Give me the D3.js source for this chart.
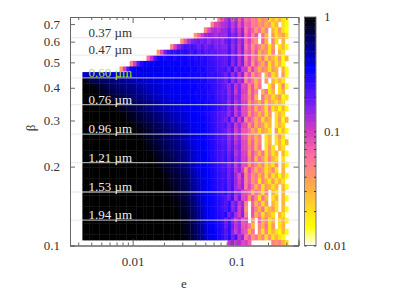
<!DOCTYPE html>
<html>
<head>
<meta charset="utf-8">
<script src="https://d3js.org/d3.v7.min.js"></script>
<style>
  body { margin: 0; background: #fff; }
  svg { display: block; }
  text { font-family: "Liberation Serif", serif; font-size: 13px; fill: #333; }
  .axis path, .axis line { stroke: #666; stroke-width: 1px; fill: none; }
  .cbar line { stroke: #333; }
  .axis text { fill: #333; font-family: "Liberation Serif", serif; font-size: 13px; }
</style>
</head>
<body>
<div id="chart"></div>
<script>
// tick values
var yTicks = [0.1, 0.2, 0.3, 0.4, 0.5, 0.6, 0.7];
var xMajor = [0.01, 0.1];
var xMinor = [0.003, 0.004, 0.005, 0.006, 0.007, 0.008, 0.009, 0.02, 0.03, 0.04, 0.05, 0.06, 0.07, 0.08, 0.09, 0.2, 0.3];
var cbMajor = [0.01, 0.1, 1];
var cbMinor = [0.02, 0.03, 0.04, 0.05, 0.06, 0.07, 0.08, 0.09, 0.2, 0.3, 0.4, 0.5, 0.6, 0.7, 0.8, 0.9];

// wavelength lines: label and beta
var waveLabels = ["0.37 µm", "0.47 µm", "0.60 µm", "0.76 µm", "0.96 µm", "1.21 µm", "1.53 µm", "1.94 µm"];
var waveBeta = [0.622, 0.533, 0.436, 0.345, 0.266, 0.207, 0.160, 0.125];
var waveColor = ["#333", "#333", "#a8e800", "#eee", "#eee", "#eee", "#eee", "#eee"];

// heatmap rows, top to bottom. firstCol = first column with data,
// blackCells = leading cells at 100%, rowCells = the rest in percent (0 = no data)
var firstCol = [40,38,36,33,29,26,22,19,14,11,0,0,0,0,0,0,0,0,0,0,0,0,0,0,0,0,0,0,0,0,0,0,0,0,0,0,0,0,0,0,43];
var blackCells = [0,0,0,0,0,0,0,0,0,0,0,1,3,4,6,8,10,12,13,15,16,17,18,19,20,21,22,23,24,24,25,26,26,27,27,28,28,28,29,29,0];
var rowCells = [
  [5,8, 11,15,8,12,7,11,6,7,5,6,3,5,4,2,3,2,3,2,1.5],
  [5,9,10,12, 13,17,11,15,8,12,7,8,5,6,4,5,3,4,2,3,0,2,1.5],
  [5,9,12,13,12,14, 15,20,12,17,10,15,6,9,7,4,6,3,5,0,3,2,4,2,1.5],
  [4,7,10,14,16,15,13,15,14, 14,21,15,19,11,16,7,10,5,8,0,6,3,0,4,2,3,4,2],
  [4,8,12,16,18,20,17,19,15,18,16,17,14, 19,23,15,20,12,16,7,10,6,4,0,7,3,0,5,2,0,3],
  [5,10,16,20,24,22,25,22,19,22,18,20,21,17,18,16, 16,23,14,19,11,17,6,9,4,7,5,3,5,2,4,0,2,3,1.5],
  [4,9,18,24,28,26,30,27,29,26,24,28,22,25,21,23,20,21,19,18, 18,24,15,20,11,16,7,9,5,8,3,5,4,2,5,0,3,2],
  [6,12,22,30,34,30,33,35,30,34,32,33,30,32,28,31,27,29,26,24,23,21,20, 19,25,16,21,12,17,6,10,5,7,3,6,2,4,3,2,4,1.5,3],
  [5,10,20,30,36,34,38,36,40,36,38,34,38,35,36,33,35,32,34,31,32,29,30,27,26,24,23,21, 20,26,15,22,12,17,7,10,4,8,5,3,6,2,4,2,3,1.5],
  [4,10,22,34,38,40,38,42,40,38,42,38,40,36,38,36,38,35,36,34,35,33,34,31,32,30,28,27,25,23,22, 24,18,24,14,19,11,11,5,9,6,3,5,4,2,4,3,0,3,1.5],
  [45,44,43,44,42,43,42,41,42,40,41,40,42,40,41,39,40,38,40,38,39,37,38,36,38,36,37,34,36,34, 35,33,34,32,33,30,31,28,26,27,24,22, 19,24,14,20,11,16,6,9,4,7,5,0,3,5,2,3,0,4,1.5],
  [80,75,72,70,68,66,64,62,60,58,56,54,52,50,48,46,45,44,43,42,41,40,39,38,39,37,38,36,37, 36,34,35,33,34,31,32,28,27,25,23,21, 18,24,14,19,12,15,5,8,6,3,5,0,4,0,3,2,3,2],
  [90,85,80,76,72,68,66,64,62,60,58,56,54,52,50,48,46,45,44,42,41,40,40,38,39,37,38, 36,36,34,35,32,33,30,31,27,26,24,21, 20,15,21,12,16,9,10,5,8,3,6,0,0,2,4,0,2,5,1.5],
  [92,88,84,80,76,72,70,67,64,62,60,58,56,53,51,48,46,45,43,41,41,39,40,37,38,36, 37,34,36,33,34,31,32,29,28,25,23,20, 22,15,20,11,17,10,10,4,8,5,0,3,6,2,3,0,2,3],
  [92,87,82,78,74,71,68,66,63,60,58,56,54,52,49,47,45,44,42,40,41,38,39,37, 38,35,36,34,35,32,33,29,30,26,24,21, 23,16,21,14,17,9,9,5,8,3,0,6,3,4,2,3,4,1.5,2],
  [93,88,84,80,76,73,70,67,64,62,59,56,54,51,49,46,45,43,41,42,39,40, 38,37,36,37,34,35,32,33,29,27,25,22, 22,15,21,12,16,10,10,4,7,5,3,6,2,4,3,2,3,2],
  [92,88,84,80,76,72,69,66,63,60,57,55,52,50,47,46,44,42,40,41, 38,39,36,37,35,36,33,34,30,28,26,22, 23,16,20,11,17,9,9,5,7,3,6,4,2,5,2,3,1.5,3,1.5],
  [94,90,86,82,78,74,71,68,65,62,59,56,54,51,49,46,44,43, 41,39,37,36,35,34,32,30,27,25,22,20, 20,15,21,11,16,9,9,4,7,5,3,5,2,4,0,2,3,2],
  [92,88,84,80,76,73,70,67,63,60,58,55,52,49,47,45,43, 41,40,38,37,36,35,33,31,28,25,23,20, 18,23,12,19,10,15,5,8,6,3,5,2,4,3,0,2,4,1.5,3],
  [94,90,86,82,78,74,70,67,64,61,58,55,52,49,47, 45,41,39,38,37,36,34,31,28,26,23,21, 23,16,20,11,15,9,9,4,7,3,5,4,2,3,0,2,3,2],
  [93,89,85,81,77,73,70,67,63,60,57,54,52,49, 47,43,40,38,38,36,34,32,29,26,24,21, 20,15,19,10,14,8,8,6,3,5,2,4,3,2,0,4,1.5,3,1.5],
  [94,90,85,81,77,74,70,66,63,60,57,54,51, 48,44,41,39,38,37,35,32,29,26,24,21, 22,14,19,11,15,8,8,4,6,3,5,0,2,3,0,2,4,2],
  [93,88,84,80,76,72,68,65,62,59,56,53, 50,45,42,40,38,37,35,33,29,27,24,21, 23,15,20,12,16,9,9,4,7,3,5,0,2,3,0,2,3,1.5,3],
  [92,88,84,79,75,71,68,64,61,58,55, 52,47,43,40,39,37,35,33,30,27,25,22, 24,16,21,14,17,9,9,5,7,3,6,0,2,4,2,0,3,2],
  [93,89,84,80,76,72,68,65,61,58, 55,49,45,41,39,38,36,33,30,27,25,22, 25,18,23,12,16,10,10,4,8,5,3,6,2,4,2,3,0,3,1.5],
  [92,88,83,79,75,71,67,64,60, 57,50,46,42,39,38,36,34,30,28,25,22, 26,19,24,14,17,10,11,5,8,3,6,4,2,5,3,2,0,2],
  [93,89,84,80,75,71,68,64, 61,54,48,44,40,38,37,34,31,28,26,22, 23,16,20,11,17,9,9,4,7,5,3,5,2,3,2,4,0,3,1.5],
  [92,88,83,79,75,71,67, 63,56,50,45,41,39,37,35,31,29,26,23, 24,18,21,12,16,10,4,9,6,3,5,4,2,3,5,2,0,3],
  [93,89,84,80,76,72, 68,60,53,47,43,40,38,35,32,29,27,24, 25,18,23,14,9,15,5,8,4,6,3,5,2,4,2,3,1.5,3,1.5],
  [96,91,86,82,77,73, 69,62,55,49,44,41,38,36,32,30,27,24, 26,19,23,15,10,14,5,8,4,6,2,5,3,2,4,2,3,2],
  [93,89,84,79,75, 71,64,57,51,46,41,38,36,32,30,27,24, 27,19,24,14,11,15,5,9,6,3,5,2,4,3,2,3,0,3,1.5],
  [92,88,83,79, 74,66,60,53,47,42,38,36,33,30,28,24, 28,19,25,14,17,9,9,7,3,6,4,2,5,0,3,2,0,3],
  [96,91,86,81, 77,69,62,55,48,43,39,36,33,31,28,25, 23,18,25,12,19,9,10,4,8,5,2,6,3,0,2,3,0,3,1.5],
  [94,89,85, 80,72,64,57,50,44,39,37,34,31,29,25, 22,27,15,20,11,14,5,0,7,3,5,2,4,0,3,2,0,3],
  [97,92,87, 83,75,67,60,52,45,40,37,34,32,29,25, 23,28,16,20,10,15,4,0,8,5,3,6,2,3,4,2,0,3,1.5],
  [94,89, 85,78,70,62,54,46,40,37,34,32,29,26, 29,18,23,14,10,16,5,0,8,3,5,2,4,3,2,0,3,2],
  [97,92, 87,80,72,64,56,48,41,38,35,32,30,26, 19,26,16,11,15,8,9,0,4,0,7,3,5,2,3,0,2,3,1.5],
  [99,94, 89,82,74,66,58,50,43,39,36,33,30,27, 20,27,18,12,15,8,9,6,3,0,5,3,6,2,4,0,2,3],
  [95, 90,84,76,68,60,52,44,40,37,34,31,27, 22,28,16,11,15,9,8,3,6,0,4,2,5,2,3,2,1.5,3,1.5],
  [97, 92,86,78,70,62,54,46,41,38,35,31,28, 23,29,18,24,12,15,6,8,4,6,3,5,2,4,2,3,2,1.5],
  [12,15,11,13,9,10,7,0,0,0,0,0,0,5,4,5,3,2]
];

// palette stops, position along the colorbar
var paletteAt = [0, 0.085, 0.25, 0.39, 0.5, 0.61, 0.78, 0.9, 1];
var paletteColor = ["#ffffff", "#ffff00", "#ffb040", "#ff70a0", "#d83cc0", "#8020f0", "#0000ff", "#000070", "#000000"];

var svg = d3.select("#chart").append("svg").attr("width", 415).attr("height", 291);

var margin = {left: 70, right: 298.5, top: 17, bottom: 245.5};
var x = d3.scaleLog().domain([0.0025, 0.393]).range([margin.left, margin.right]);
var y = d3.scaleLog().domain([0.1, 0.745]).range([margin.bottom, margin.top]);
var cb = d3.scaleLog().domain([0.01, 1]).range([245.5, 17]);
var frac = d3.scaleLog().domain([0.01, 1]).range([0, 1]);
var palette = d3.scaleLinear().domain(paletteAt).range(paletteColor);

// the simulation grid is regular in log e and log beta
function eEdge(i) { return 0.00329 * Math.pow(1.0775, i); }
function betaEdge(i) { return 0.7508 * Math.pow(0.952, i); }

var cells = [];
rowCells.forEach(function(row, r) {
  var c = firstCol[r];
  for (var k = 0; k < blackCells[r]; k++) cells.push({r: r, c: c++, v: 100});
  row.forEach(function(v) { cells.push({r: r, c: c++, v: v}); });
});

svg.append("clipPath").attr("id", "plotclip").append("rect")
  .attr("x", margin.left).attr("y", margin.top)
  .attr("width", margin.right - margin.left).attr("height", margin.bottom - margin.top);

svg.append("g").attr("clip-path", "url(#plotclip)").style("filter", "blur(0.35px)")
  .selectAll("rect")
  .data(cells.filter(function(d) { return d.v > 0; }))
  .enter().append("rect")
  .attr("x", function(d) { return x(eEdge(d.c)); })
  .attr("y", function(d) { return y(betaEdge(d.r)); })
  .attr("width", function(d) { return x(eEdge(d.c + 1)) - x(eEdge(d.c)) + 0.4; })
  .attr("height", function(d) { return y(betaEdge(d.r + 1)) - y(betaEdge(d.r)) + 0.4; })
  .style("fill", function(d) { return palette(frac(d.v / 100)); });

// wavelength lines
svg.selectAll(".wave").data(waveBeta).enter().append("line")
  .attr("class", "wave")
  .attr("x1", margin.left).attr("x2", margin.right)
  .attr("y1", function(d) { return y(d); }).attr("y2", function(d) { return y(d); })
  .style("stroke", "#e6e6e6").style("stroke-width", 1.3).style("opacity", 0.7);

svg.selectAll(".wavelabel").data(waveLabels).enter().append("text")
  .attr("class", "wavelabel")
  .attr("x", 88.5)
  .attr("y", function(d, i) { return y(waveBeta[i]) - 1; })
  .style("fill", function(d, i) { return waveColor[i]; })
  .text(function(d) { return d; });

// axes, ticks point inward
function axisPair(gen, pos, major, minor, bigLen, fmt) {
  var g = svg.append("g").attr("class", "axis").attr("transform", pos);
  g.call(gen.tickValues(minor).tickSize(-3).tickFormat(""));
  var g2 = svg.append("g").attr("class", "axis").attr("transform", pos);
  g2.call(gen.tickValues(major).tickSize(-bigLen).tickPadding(11).tickFormat(fmt));
  return g2;
}
var plain = function(d) { return String(d); };
var none = function() { return ""; };

axisPair(d3.axisBottom(x), "translate(0," + margin.bottom + ")", xMajor, xMinor, 6, plain);
axisPair(d3.axisTop(x), "translate(0," + margin.top + ")", xMajor, xMinor, 6, none);
svg.append("g").attr("class", "axis").attr("transform", "translate(" + margin.left + ",0)")
  .call(d3.axisLeft(y).tickValues(yTicks).tickSize(-5).tickPadding(10).tickFormat(plain));
svg.append("g").attr("class", "axis").attr("transform", "translate(" + margin.right + ",0)")
  .call(d3.axisRight(y).tickValues(yTicks).tickSize(-5).tickFormat(none));

svg.append("text").attr("x", 184).attr("y", 288).style("text-anchor", "middle").text("e");
svg.append("text").attr("transform", "translate(35,128) rotate(-90)").style("text-anchor", "middle").text("β");

// colorbar
var cbSteps = d3.range(0, 100);
svg.append("g").selectAll("rect").data(cbSteps).enter().append("rect")
  .attr("x", 304.5).attr("width", 11.5)
  .attr("y", function(d) { return 245.5 - (d + 1) * 2.285; })
  .attr("height", 2.8)
  .style("fill", function(d) { return palette((d + 0.5) / 100); });
svg.append("rect").attr("x", 304.5).attr("y", 17).attr("width", 11.5).attr("height", 228.5)
  .style("fill", "none").style("stroke", "#777");

var cbLeft = svg.append("g").attr("class", "axis cbar").attr("transform", "translate(304.5,0)");
cbLeft.call(d3.axisLeft(cb).tickValues(cbMinor.concat(cbMajor)).tickSize(-2).tickFormat(""));
var cbRight = svg.append("g").attr("class", "axis cbar").attr("transform", "translate(316,0)");
cbRight.call(d3.axisRight(cb).tickValues(cbMinor.concat(cbMajor)).tickSize(-2).tickFormat(""));
svg.selectAll(".cbar path").style("stroke", "none");

svg.selectAll(".cblabel").data(cbMajor).enter().append("text")
  .attr("class", "cblabel")
  .attr("x", 324).attr("dy", "0.33em")
  .attr("y", function(d) { return cb(d); })
  .text(plain);
</script>
</body>
</html>
